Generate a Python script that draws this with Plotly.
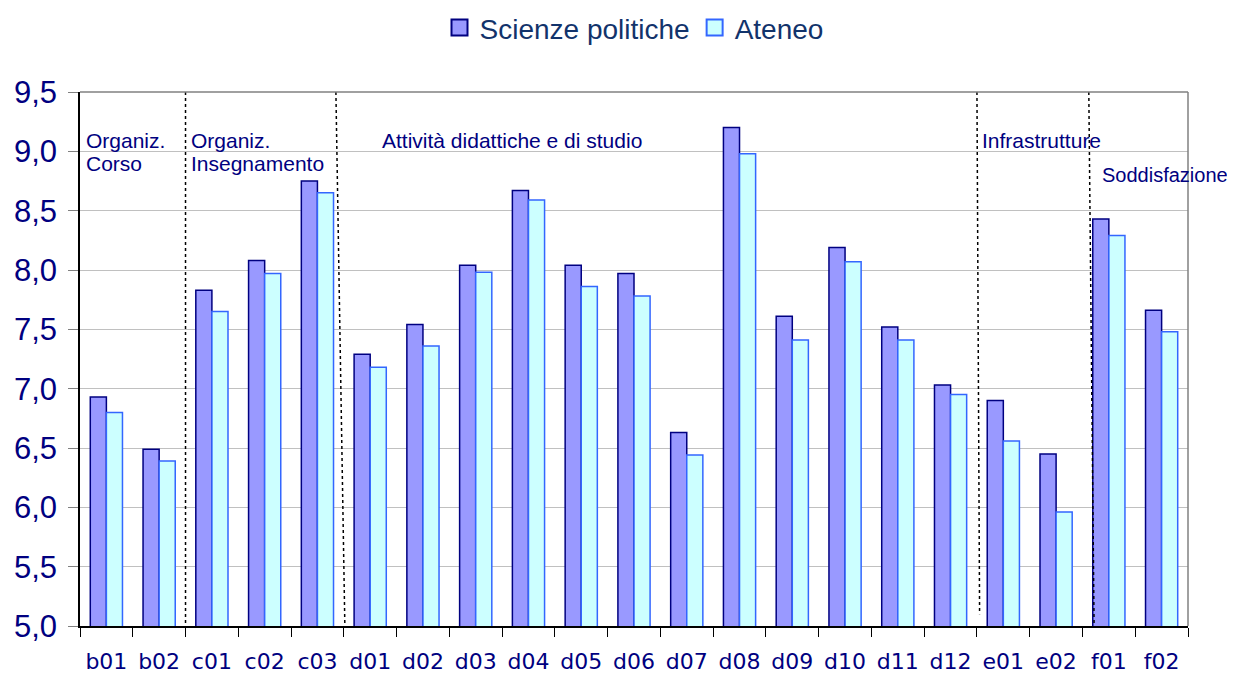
import plotly.graph_objects as go

categories = ["b01", "b02", "c01", "c02", "c03", "d01", "d02", "d03", "d04", "d05", "d06",
              "d07", "d08", "d09", "d10", "d11", "d12", "e01", "e02", "f01", "f02"]
scienze_politiche = [6.93, 6.49, 7.83, 8.08, 8.75, 7.29, 7.54, 8.04, 8.67, 8.04, 7.97,
                     6.63, 9.20, 7.61, 8.19, 7.52, 7.03, 6.90, 6.45, 8.43, 7.66]
ateneo = [6.80, 6.39, 7.65, 7.97, 8.65, 7.18, 7.36, 7.98, 8.59, 7.86, 7.78,
          6.44, 8.98, 7.41, 8.07, 7.41, 6.95, 6.56, 5.96, 8.29, 7.48]

NAVY = "#000080"
series = [
    ("Scienze politiche", scienze_politiche, "#9999FF", NAVY),
    ("Ateneo", ateneo, "#CCFFFF", "#3366FF"),
]

fig = go.Figure()
for name, values, fill, edge in series:
    fig.add_trace(go.Bar(
        x=categories, y=values, name=name, showlegend=False,
        marker=dict(color=fill, line=dict(color=edge, width=1.5)),
    ))
# bigger square legend keys, like the original
for name, values, fill, edge in series:
    fig.add_trace(go.Scatter(
        x=[None], y=[None], name=name, mode="markers",
        marker=dict(symbol="square", size=16, color=fill, line=dict(color=edge, width=2)),
    ))

# dotted separators between question groups
for x0, x1, y0 in [(1.5, 1.5, 5.0), (4.35, 4.52, 5.0), (16.5, 16.55, 5.1), (18.62, 18.72, 5.0)]:
    fig.add_shape(type="line", x0=x0, x1=x1, y0=9.5, y1=y0, xref="x", yref="y",
                  line=dict(color="black", width=1.5, dash="dot"))

group_labels = [
    (-0.43, 9.095, "Organiz.", 21),
    (-0.43, 8.9, "Corso", 21),
    (1.56, 9.095, "Organiz.", 21),
    (1.56, 8.9, "Insegnamento", 21),
    (5.19, 9.09, "Attività didattiche e di studio", 21),
    (16.56, 9.09, "Infrastrutture", 21),
    (18.84, 8.8, "Soddisfazione", 20),
]
for x, y, text, size in group_labels:
    fig.add_annotation(x=x, y=y, text=text, xref="x", yref="y", showarrow=False,
                       xanchor="left", yanchor="middle", align="left",
                       font=dict(family="Arial, Liberation Sans", size=size, color=NAVY))

# the page body has an 8px margin, so the figure is shrunk by that much
fig.update_layout(
    width=1227, height=668,
    margin=dict(l=72, r=47, t=84, b=50, autoexpand=False),
    plot_bgcolor="white", paper_bgcolor="white",
    barmode="group", bargap=0.39, bargroupgap=0,
    separators=",.",
    showlegend=True,
    legend=dict(orientation="h", x=0.5, xanchor="center", y=1.12, yanchor="middle",
                font=dict(family="Arial, Liberation Sans", size=28, color="#12336B"),
                itemwidth=30),
    font=dict(family="Arial, Liberation Sans", color=NAVY),
)
fig.update_yaxes(
    range=[5.0, 9.5], dtick=0.5, tickformat=".1f", automargin=False,
    showgrid=True, gridcolor="#C0C0C0", gridwidth=1,
    showline=True, linecolor="black", linewidth=1.5,
    ticks="outside", ticklen=10, tickcolor="#808080",
    tickfont=dict(family="Arial, Liberation Sans", size=31, color=NAVY),
    ticklabelstandoff=5,
    mirror=False, zeroline=False,
)
fig.update_xaxes(
    range=[-0.5, 20.5], autorange=False,
    showline=True, linecolor="black", linewidth=1.5, automargin=False,
    ticks="outside", ticklen=9, tickcolor="black", tickson="boundaries",
    tickfont=dict(family="Comic Sans MS, DejaVu Sans", size=22, color=NAVY),
    ticklabelstandoff=15,
)
# gray frame on top and right
fig.add_shape(type="line", xref="paper", yref="paper", x0=0, x1=1, y0=1, y1=1,
              line=dict(color="#808080", width=1.5))
fig.add_shape(type="line", xref="paper", yref="paper", x0=1, x1=1, y0=0, y1=1,
              line=dict(color="#808080", width=1.5))

fig.write_html("out.html")
